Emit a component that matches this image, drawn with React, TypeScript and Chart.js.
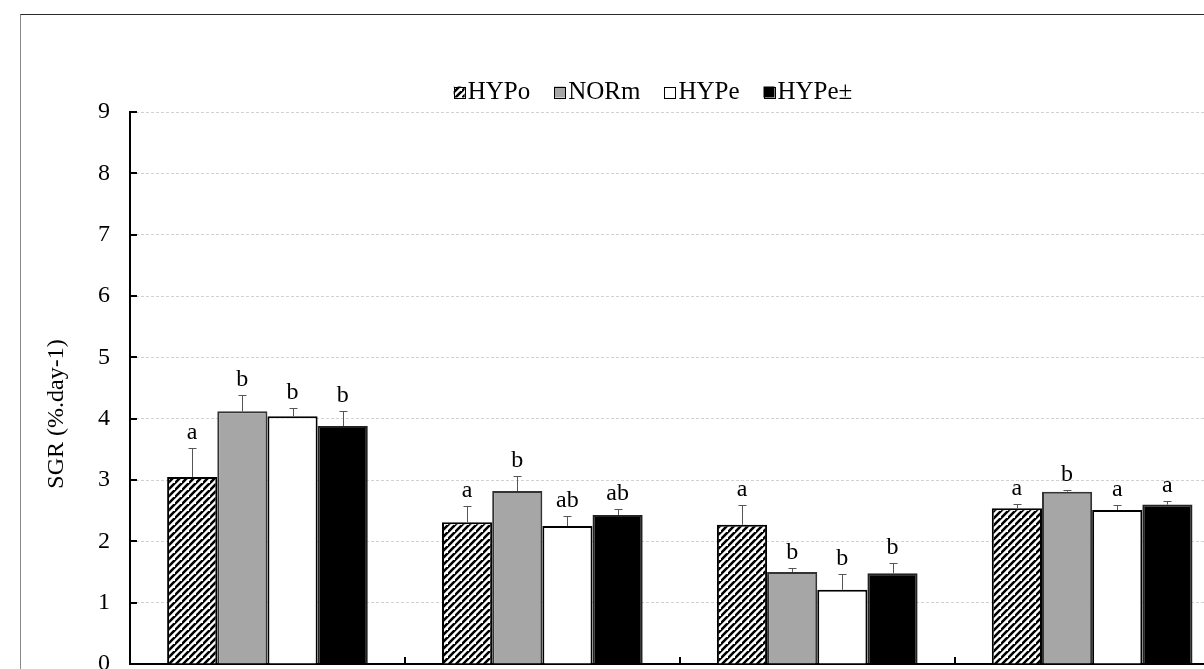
import React, { useEffect, useRef } from "react";
import { Chart, registerables } from "chart.js";

Chart.register(...registerables);

const categories = ["1", "2", "3", "4"];
const seriesNames = ["HYPo", "NORm", "HYPe", "HYPe±"];

const hypoValues = [3.05, 2.31, 2.27, 2.54];
const hypoErrors = [0.47, 0.27, 0.33, 0.07];
const hypoLetters = ["a", "a", "a", "a"];

const normValues = [4.12, 2.82, 1.5, 2.81];
const normErrors = [0.26, 0.25, 0.07, 0.02];
const normLetters = ["b", "b", "b", "b"];

const hypeValues = [4.04, 2.25, 1.21, 2.51];
const hypeErrors = [0.13, 0.16, 0.26, 0.09];
const hypeLetters = ["b", "ab", "b", "a"];

const hypePmValues = [3.88, 2.43, 1.48, 2.6];
const hypePmErrors = [0.24, 0.09, 0.16, 0.06];
const hypePmLetters = ["b", "ab", "b", "a"];

const yMin = 0;
const yMax = 9;
const yStep = 1;
const yTitle = "SGR (%.day-1)";

const FONT = '"Liberation Serif", "Times New Roman", serif';
const CANVAS_W = 1300;
const CANVAS_H = 700;

function makeHatch(): CanvasPattern | string {
  const c = document.createElement("canvas");
  const s = 7;
  c.width = s;
  c.height = s;
  const g = c.getContext("2d");
  if (!g) return "#fff";
  g.fillStyle = "#fff";
  g.fillRect(0, 0, s, s);
  g.strokeStyle = "#000";
  g.lineWidth = 2.6;
  g.beginPath();
  g.moveTo(-1, s + 1);
  g.lineTo(s + 1, -1);
  g.moveTo(-1 - s, s + 1);
  g.lineTo(1, -1);
  g.moveTo(s - 1, 2 * s + 1);
  g.lineTo(2 * s + 1, s - 1);
  g.stroke();
  const p = g.createPattern(c, "repeat");
  return p || "#fff";
}

const overlayPlugin = {
  id: "overlay",
  afterDatasetsDraw(chart: any) {
    const ctx = chart.ctx;
    const ys = chart.scales.y;
    const xs = chart.scales.x;
    const area = chart.chartArea;
    ctx.save();
    // inward ticks on y axis
    ctx.strokeStyle = "#000";
    ctx.lineWidth = 2;
    for (let v = yMin + yStep; v <= yMax; v += yStep) {
      const py = Math.round(ys.getPixelForValue(v));
      ctx.beginPath();
      ctx.moveTo(area.left, py);
      ctx.lineTo(area.left + 7, py);
      ctx.stroke();
    }
    // category divider ticks on x axis
    const n = categories.length;
    const cw = (xs.right - xs.left) / n;
    for (let i = 1; i <= n; i++) {
      const px = Math.round(xs.left + i * cw);
      ctx.beginPath();
      ctx.moveTo(px, area.bottom);
      ctx.lineTo(px, area.bottom - 7);
      ctx.stroke();
    }
    // error bars and letters
    chart.data.datasets.forEach((ds: any, di: number) => {
      const meta = chart.getDatasetMeta(di);
      meta.data.forEach((bar: any, i: number) => {
        const top = ys.getPixelForValue(ds.data[i] + ds.errors[i]);
        const bx = Math.round(bar.x) + 0.5;
        const ty = Math.round(top) + 0.5;
        ctx.strokeStyle = "#555";
        ctx.lineWidth = 1;
        ctx.beginPath();
        ctx.moveTo(bx, bar.y);
        ctx.lineTo(bx, ty);
        ctx.moveTo(bx - 4, ty);
        ctx.lineTo(bx + 4, ty);
        ctx.stroke();
        ctx.fillStyle = "#000";
        ctx.font = `24px ${FONT}`;
        ctx.textAlign = "center";
        ctx.textBaseline = "alphabetic";
        ctx.fillText(ds.letters[i], bar.x, top - 9);
      });
    });
    ctx.restore();
  },
  afterDraw(chart: any) {
    const ctx = chart.ctx;
    ctx.save();
    // y axis title
    ctx.font = `24px ${FONT}`;
    ctx.fillStyle = "#000";
    ctx.textAlign = "center";
    ctx.textBaseline = "middle";
    ctx.translate(57, 414);
    ctx.rotate(-Math.PI / 2);
    ctx.fillText(yTitle, 0, 0);
    ctx.restore();

    ctx.save();
    ctx.font = `25px ${FONT}`;
    ctx.textBaseline = "middle";
    ctx.textAlign = "left";
    const box = 11;
    const gap = 3;
    const spacing = 24;
    const items = chart.data.datasets.map((ds: any) => ({
      label: ds.label,
      fill: ds.backgroundColor,
      w: box + gap + ctx.measureText(ds.label).width,
    }));
    const total =
      items.reduce((s: number, it: any) => s + it.w, 0) + spacing * (items.length - 1);
    let x = 653 - total / 2;
    const cy = 92;
    items.forEach((it: any) => {
      ctx.fillStyle = it.fill;
      ctx.fillRect(x, cy - box / 2, box, box);
      ctx.strokeStyle = "#000";
      ctx.lineWidth = 1;
      ctx.strokeRect(Math.round(x) + 0.5, Math.round(cy - box / 2) + 0.5, box, box);
      ctx.fillStyle = "#000";
      ctx.fillText(it.label, x + box + gap, cy);
      x += it.w + spacing;
    });
    ctx.restore();
  },
};

export default function App() {
  const ref = useRef<HTMLCanvasElement | null>(null);

  useEffect(() => {
    if (!ref.current) return;
    const hatch = makeHatch();
    const common = {
      borderWidth: 2,
      borderSkipped: "start",
      categoryPercentage: 0.73,
      barPercentage: 1,
    };
    const chart = new Chart(ref.current, {
      type: "bar",
      data: {
        labels: categories,
        datasets: [
          {
            ...common,
            label: seriesNames[0],
            data: hypoValues,
            errors: hypoErrors,
            letters: hypoLetters,
            backgroundColor: hatch,
            borderColor: "#000",
          } as any,
          {
            ...common,
            label: seriesNames[1],
            data: normValues,
            errors: normErrors,
            letters: normLetters,
            backgroundColor: "#a6a6a6",
            borderColor: "#333",
          } as any,
          {
            ...common,
            label: seriesNames[2],
            data: hypeValues,
            errors: hypeErrors,
            letters: hypeLetters,
            backgroundColor: "#ffffff",
            borderColor: "#000",
          } as any,
          {
            ...common,
            label: seriesNames[3],
            data: hypePmValues,
            errors: hypePmErrors,
            letters: hypePmLetters,
            backgroundColor: "#000000",
            borderColor: "#222",
          } as any,
        ],
      },
      options: {
        responsive: false,
        animation: false,
        layout: { padding: { top: 112, right: 70.4, left: 0, bottom: 0 } },
        plugins: {
          legend: { display: false },
          tooltip: { enabled: false },
        },
        scales: {
          x: {
            grid: { display: false, drawTicks: false },
            border: { display: true, color: "#000", width: 2 },
            ticks: { display: false },
            afterFit: (s: any) => {
              s.height = CANVAS_H - 664;
            },
          },
          y: {
            min: yMin,
            max: yMax,
            ticks: {
              stepSize: yStep,
              padding: 20,
              color: "#000",
              font: { family: FONT, size: 24 },
            },
            grid: { color: "#d2d2d2", lineWidth: 1, drawTicks: false },
            border: { display: true, color: "#000", width: 2, dash: [3, 2] },
            title: { display: false, text: yTitle },
            afterFit: (s: any) => {
              s.width = 130;
            },
          },
        },
      } as any,
      plugins: [overlayPlugin],
    });
    return () => chart.destroy();
  }, []);

  return (
    <div
      style={{
        position: "absolute",
        left: 0,
        top: 0,
        width: 1204,
        height: 669,
        overflow: "hidden",
        background: "#fff",
      }}
    >
      <div
        style={{
          position: "absolute",
          left: 20,
          top: 14,
          width: 2000,
          height: 2000,
          borderTop: "1px solid #2a2a2a",
          borderLeft: "1.5px solid #8a8a8a",
        }}
      />
      <canvas
        ref={ref}
        width={CANVAS_W}
        height={CANVAS_H}
        style={{ position: "absolute", left: 0, top: 0, width: CANVAS_W, height: CANVAS_H }}
      />
    </div>
  );
}
